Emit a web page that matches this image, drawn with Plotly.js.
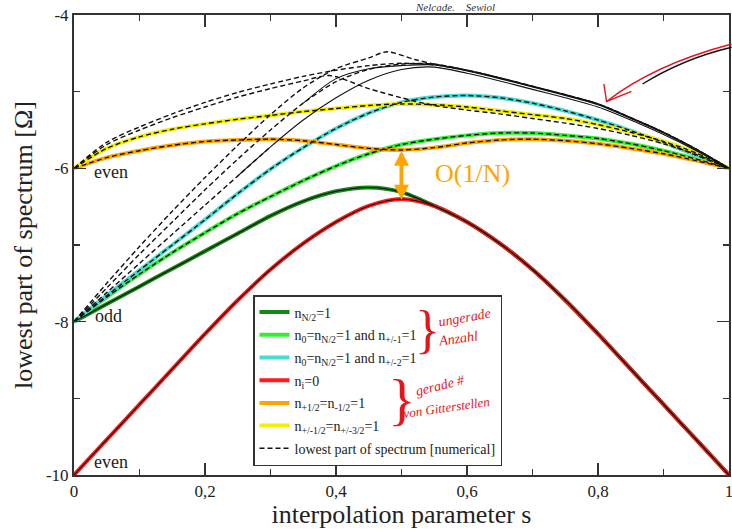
<!DOCTYPE html>
<html>
<head>
<meta charset="utf-8">
<script src="https://cdn.plot.ly/plotly-3.0.1.min.js"></script>
<style>html,body{margin:0;padding:0;background:#fff;}#chart{width:732px;height:529px;}</style>
</head>
<body>
<div id="chart"></div>
<script>
// ---------- data ----------
const S = [0,0.05,0.1,0.15,0.2,0.25,0.3,0.35,0.4,0.45,0.5,0.55,0.6,0.65,0.7,0.75,0.8,0.85,0.9,0.95,1];

const nHalf      = [-8,-7.77,-7.54,-7.31,-7.08,-6.85,-6.62,-6.43,-6.30,-6.25,-6.31,-6.49,-6.70,-6.98,-7.32,-7.72,-8.16,-8.62,-9.08,-9.54,-10];
const nPm1       = [-8,-7.68,-7.38,-7.10,-6.84,-6.59,-6.37,-6.16,-5.97,-5.81,-5.69,-5.62,-5.57,-5.54,-5.54,-5.57,-5.61,-5.68,-5.77,-5.88,-6];
const nPm2       = [-8,-7.66,-7.33,-7.00,-6.67,-6.33,-6.01,-5.73,-5.48,-5.28,-5.14,-5.07,-5.05,-5.08,-5.15,-5.25,-5.37,-5.51,-5.66,-5.83,-6];
const nZero      = [-10,-9.54,-9.08,-8.62,-8.16,-7.72,-7.32,-6.98,-6.70,-6.49,-6.40,-6.49,-6.70,-6.98,-7.32,-7.72,-8.16,-8.62,-9.08,-9.54,-10];
const nHalfPair  = [-6,-5.86,-5.77,-5.70,-5.65,-5.63,-5.62,-5.64,-5.69,-5.74,-5.76,-5.73,-5.67,-5.63,-5.62,-5.64,-5.68,-5.74,-5.81,-5.90,-6];
const nThreeHalf = [-6,-5.74,-5.59,-5.49,-5.42,-5.36,-5.31,-5.26,-5.22,-5.18,-5.16,-5.17,-5.20,-5.25,-5.30,-5.35,-5.43,-5.53,-5.65,-5.80,-6];

// numerical levels not covered by the legend curves
const upper1X = [0,0.05,0.1,0.15,0.2,0.25,0.3,0.35,0.4,0.45,0.5,0.55,0.6,0.65,0.7,0.75,0.8,0.85,0.9,0.95,1];
const upper1Y = [-6,-5.66,-5.46,-5.29,-5.14,-5.01,-4.90,-4.80,-4.72,-4.66,-4.63,-4.65,-4.72,-4.82,-4.93,-5.04,-5.16,-5.34,-5.53,-5.75,-6];
const upper2X = [0,0.05,0.1,0.15,0.2,0.25,0.3,0.35,0.39,0.45,0.5,0.55,0.6,0.65,0.7,0.75,0.8,0.85,0.9,0.95,1];
const upper2Y = [-6,-5.69,-5.50,-5.34,-5.20,-5.07,-4.96,-4.86,-4.79,-4.96,-5.08,-5.18,-5.24,-5.29,-5.35,-5.41,-5.48,-5.57,-5.68,-5.82,-6];
const steep1X = [0,0.05,0.1,0.15,0.2,0.25,0.3,0.35,0.4,0.45,0.478,0.52,0.55,0.6,0.65,0.7,0.75,0.8,0.85,0.9,0.95,1];
const steep1Y = [-8,-7.50,-7.02,-6.56,-6.12,-5.70,-5.30,-4.95,-4.70,-4.56,-4.48,-4.58,-4.64,-4.72,-4.82,-4.93,-5.04,-5.16,-5.34,-5.53,-5.75,-6];
const steep2X = [0,0.05,0.1,0.15,0.2,0.25,0.3,0.35,0.4,0.45,0.5,0.55,0.6,0.65,0.7,0.75,0.8,0.85,0.9,0.95,1];
const steep2Y = [-8,-7.56,-7.12,-6.70,-6.28,-5.88,-5.50,-5.15,-4.87,-4.71,-4.64,-4.64,-4.72,-4.82,-4.93,-5.04,-5.16,-5.34,-5.53,-5.75,-6];
const solidAX = [0,0.05,0.1,0.15,0.2,0.25,0.3,0.35,0.4,0.45,0.5,0.55,0.6,0.65,0.7,0.75,0.8,0.85,0.9,0.95,1];
const solidAY = [-8,-7.62,-7.24,-6.86,-6.48,-6.10,-5.72,-5.37,-5.08,-4.85,-4.71,-4.68,-4.76,-4.86,-4.97,-5.08,-5.20,-5.37,-5.56,-5.77,-6];
const solidBX = [0.35,0.4,0.45,0.5,0.55,0.6,0.65,0.7,0.75,0.8,0.85,0.9,0.95,1];
const solidBY = [-5.15,-4.83,-4.70,-4.66,-4.65,-4.73,-4.83,-4.94,-5.05,-5.17,-5.35,-5.54,-5.76,-6];

const xTickVals = [0,0.2,0.4,0.6,0.8,1];
const xTickText = ['0','0,2','0,4','0,6','0,8','1'];
const xMinorVals = [0.1,0.3,0.5,0.7,0.9];
const yTickVals = [-10,-8,-6,-4];
const yTickText = ['-10','-8','-6','-4'];
const yMinorVals = [-9,-7,-5];

const legendNames = [
  'n<sub>N/2</sub>=1',
  'n<sub>0</sub>=n<sub>N/2</sub>=1 and n<sub>+/-1</sub>=1',
  'n<sub>0</sub>=n<sub>N/2</sub>=1 and n<sub>+/-2</sub>=1',
  'n<sub>i</sub>=0',
  'n<sub>+1/2</sub>=n<sub>-1/2</sub>=1',
  'n<sub>+/-1/2</sub>=n<sub>+/-3/2</sub>=1',
  'lowest part of spectrum [numerical]'
];
const colors = ['#138a13','#33ee33','#46dcd2','#ff1a1a','#ffa500','#f4ee00'];

// ---------- traces ----------
const FONT = 'Liberation Serif';
function colored(y, i, rank){
  return {x:S, y:y, type:'scatter', mode:'lines', name:legendNames[i], legendrank:rank, legendgroup:'g'+rank,
    line:{color:colors[i], width:4, shape:'spline', smoothing:0.8}, hoverinfo:'skip'};
}
function black(x, y, dashed, show){
  return {x:x, y:y, type:'scatter', mode:'lines', name:legendNames[6], legendrank:7, legendgroup:'g7', showlegend:!!show,
    line:{color:'#111', width:dashed?1.4:1.1, dash:dashed?'5px,3px':'solid', shape:'spline', smoothing:0.8}, hoverinfo:'skip'};
}

const data = [
  colored(nHalf,0,1),
  colored(nPm1,1,2),
  colored(nPm2,2,3),
  colored(nHalfPair,4,5),
  colored(nThreeHalf,5,6),
  colored(nZero,3,4),
  black(S,nHalf,false),
  black(S,nZero,false),
  black(S,nPm1,true),
  black(S,nPm2,true),
  black(S,nHalfPair,true),
  black(S,nThreeHalf,true),
  black(upper1X,upper1Y,true),
  black(upper2X,upper2Y,true),
  black(steep1X,steep1Y,true),
  black(steep2X,steep2Y,true),
  black(solidAX.slice(0,7),solidAY.slice(0,7),true),
  black(solidAX.slice(5),solidAY.slice(5),false),
  black(solidBX,solidBY,false),
  black([null],[null],true,true)
];

// ---------- layout ----------
function px2paper(px,py){ return [(px-74)/655, (475-py)/460]; }
const redNote = '#e8141c';
const ann = [];
function note(text, px, py, size, color, extra){
  const p = px2paper(px,py);
  ann.push(Object.assign({text:text, x:p[0], y:p[1], xref:'paper', yref:'paper', showarrow:false,
    xanchor:'center', yanchor:'middle', font:{family:FONT, size:size, color:color}}, extra||{}));
}
function hand(size, color){ return {family:FONT, size:size, color:color||redNote, style:'italic'}; }
note('even', 111, 172, 18, '#222');
note('odd', 108, 316, 18, '#222');
note('even', 111, 462, 18, '#222');
note('O(1/N)', 472, 173, 26, '#ffa500');
note('}', 427, 330, 52, redNote);
note('ungerade', 465, 317, 14, redNote, {textangle:-10, font:hand(14)});
note('Anzahl', 458, 339, 14, redNote, {textangle:-8, font:hand(14)});
note('}', 402, 399, 58, redNote);
note('gerade #', 440, 385, 14, redNote, {textangle:-14, font:hand(14)});
note('von Gitterstellen', 446, 407, 13, redNote, {textangle:-8, font:hand(13)});
note('Nelcade.&nbsp;&nbsp;&nbsp;&nbsp;Sewiol', 455, 7, 11, '#333', {font:hand(11,'#333')});

// orange gap arrow between the orange minimum and the red maximum at s = 0.5
ann.push({x:S[10], y:nZero[10]-0.01, ax:S[10], ay:nHalfPair[10]+0.01, xref:'x', yref:'y', axref:'x', ayref:'y',
  text:'', showarrow:true, arrowhead:2, startarrowhead:2, arrowside:'end+start', arrowwidth:4,
  arrowsize:0.75, startarrowsize:0.75, arrowcolor:'#ffa500'});

const layout = {
  width:732, height:529,
  margin:{l:74, r:3, t:15, b:54},
  paper_bgcolor:'#fff', plot_bgcolor:'#fff',
  font:{family:FONT, color:'#222'},
  showlegend:true,
  legend:{x:(253-74)/655, y:(475-295)/460, xanchor:'left', yanchor:'top', bgcolor:'#fff',
    bordercolor:'#333', borderwidth:1.5, tracegroupgap:1.5, traceorder:'grouped',
    font:{family:FONT, size:14, color:'#222'}},
  xaxis:{range:[0,1], tickmode:'array', tickvals:xTickVals, ticktext:xTickText,
    ticks:'inside', ticklen:12, tickwidth:1.5, tickcolor:'#333', ticklabeloverflow:'allow',
    showline:true, linecolor:'#333', linewidth:2, mirror:'ticks', showgrid:false, zeroline:false,
    tickfont:{family:FONT, size:17, color:'#222'},
    minor:{tickvals:xMinorVals, ticks:'inside', ticklen:6, tickwidth:1.5, tickcolor:'#333', showgrid:false},
    title:{text:'interpolation parameter s', font:{family:FONT, size:26, color:'#222'}, standoff:8}},
  yaxis:{range:[-10,-4], tickmode:'array', tickvals:yTickVals, ticktext:yTickText,
    ticks:'inside', ticklen:12, tickwidth:1.5, tickcolor:'#333', ticklabeloverflow:'allow',
    showline:true, linecolor:'#333', linewidth:2, mirror:'ticks', showgrid:false, zeroline:false,
    tickfont:{family:FONT, size:17, color:'#222'},
    minor:{tickvals:yMinorVals, ticks:'inside', ticklen:6, tickwidth:1.5, tickcolor:'#333', showgrid:false},
    title:{text:'lowest part of spectrum [Ω]', font:{family:FONT, size:26, color:'#222'}, standoff:6}},
  annotations:ann,
  shapes:[
    {type:'path', xref:'paper', yref:'paper', path:'M 1.004,0.937 Q 0.885,0.892 0.813,0.812', line:{color:redNote, width:1.4}},
    {type:'path', xref:'paper', yref:'paper', path:'M 0.809,0.850 L 0.813,0.812 L 0.851,0.834', line:{color:redNote, width:1.4}},
    {type:'path', xref:'paper', yref:'paper', path:'M 0.868,0.850 Q 0.93,0.905 1.004,0.930', line:{color:'#111', width:1.4}}
  ]
};

Plotly.newPlot('chart', data, layout, {displayModeBar:false, staticPlot:true});
</script>
</body>
</html>
